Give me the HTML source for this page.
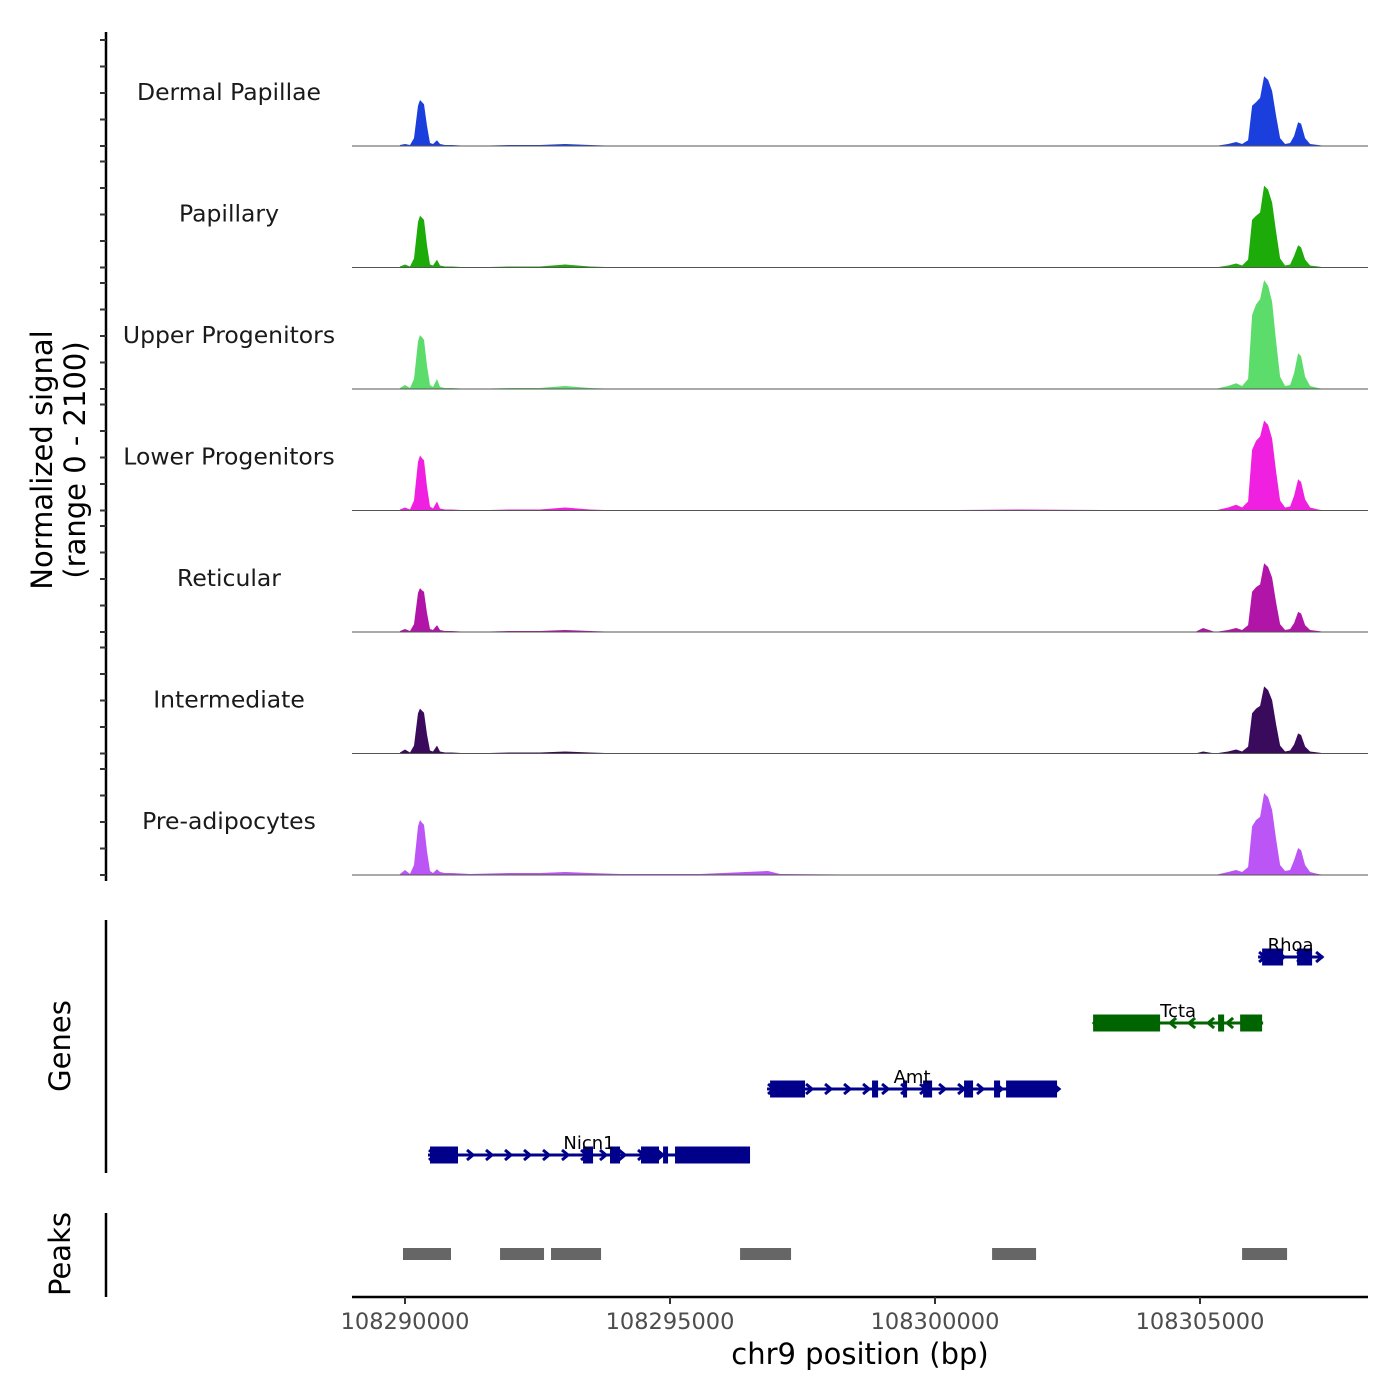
<!DOCTYPE html>
<html><head><meta charset="utf-8">
<style>
html,body{margin:0;padding:0;background:#fff;}
svg{display:block;font-family:"DejaVu Sans","Liberation Sans",sans-serif;}
</style></head>
<body>
<svg id="chart" width="1400" height="1400" viewBox="0 0 1400 1400" xmlns="http://www.w3.org/2000/svg">
<rect width="1400" height="1400" fill="#fff"/>
<g id="tracks"></g>
<g id="genes"></g>
<g id="peaks"></g>
<g id="axes"></g>
</svg>
<script>
const origin = 108289000;
const xTicks = [108290000, 108295000, 108300000, 108305000];
const trackNames = ["Dermal Papillae","Papillary","Upper Progenitors","Lower Progenitors","Reticular","Intermediate","Pre-adipocytes"];
const trackColors = ["#1a3fdc","#1cab08","#5cdc6a","#f020e0","#b015a8","#3a0a5c","#bb55f5"];
const positions = [906,1000,1094,1170,1245,1283,1321,1359,1415,1472,1528,1604,1660,1755,1887,2227,2981,3548,4020,4491,5057,6567,7850,8076,10341,12605,15908,16059,16285,16531,16681,16795,16908,16983,17059,17134,17210,17285,17361,17436,17512,17606,17700,17776,17851,17908,17983,18078,18229,18361];
const sigDP   = [19,38,19,150,760,870,830,790,380,57,38,110,38,19,19,0,19,19,38,19,0,0,0,0,0,0,0,0,0,38,75,38,110,760,830,910,1320,1250,1040,570,150,38,57,190,450,420,150,38,19,0];
const sigPap  = [19,57,19,170,860,980,940,900,420,57,38,150,38,19,19,0,19,19,57,19,0,0,0,0,0,0,0,0,0,38,75,38,150,900,980,1040,1550,1470,1230,680,170,38,57,220,420,380,150,38,19,0];
const sigUp   = [19,76,19,190,900,1020,980,930,440,76,38,190,38,19,19,0,19,19,57,19,0,0,0,0,0,0,0,0,0,57,110,57,190,1400,1600,1700,2060,1950,1650,900,230,57,76,300,680,620,230,57,19,0];
const sigLow  = [19,57,19,190,920,1040,990,950,450,76,38,170,38,19,19,0,19,19,57,19,0,0,0,0,0,19,0,0,0,57,110,57,170,1150,1320,1400,1700,1620,1360,740,190,57,76,280,590,540,210,57,19,0];
const sigRet  = [19,57,19,150,740,830,790,760,360,57,38,130,38,19,19,0,19,19,38,19,0,0,0,0,0,0,0,76,0,38,75,38,130,760,850,900,1300,1230,1030,560,150,38,57,170,380,350,130,38,19,0];
const sigInt  = [19,76,19,150,760,850,810,770,360,57,38,150,38,19,19,0,19,19,38,19,0,0,0,0,0,0,0,38,0,38,75,38,130,760,850,900,1270,1200,1010,550,150,38,57,170,380,350,130,38,19,0];
const sigPre  = [19,95,19,190,920,1040,990,950,450,76,38,110,57,38,38,19,38,38,57,38,19,19,76,19,0,0,0,0,0,57,95,57,150,920,1040,1100,1550,1470,1230,680,190,76,95,280,510,470,190,57,19,0];
const signals = [sigDP,sigPap,sigUp,sigLow,sigRet,sigInt,sigPre];
const geneNames = ["Nicn1","Amt","Tcta","Rhoa"];
const geneStarts = [1434,7831,13983,17096];
const geneEnds = [7510,13303,17191,18323];
const geneStrands = [1,1,-1,1];
const geneRows = [3,2,1,0];
const geneExons = [
  [[1472,2000],[4359,4548],[4868,5057],[5453,5793],[5869,5963],[6095,7510]],
  [[7888,8548],[9812,9926],[10397,10473],[10775,10945],[11548,11718],[12114,12228],[12341,13303]],
  [[13983,15247],[16341,16455],[16757,17172]],
  [[17172,17568],[17832,18115]]
];
const peakStarts = [962,2793,3755,7322,12077,16794];
const peakEnds = [1868,3623,4699,8284,12907,17643];

const NS="http://www.w3.org/2000/svg";
function el(tag,attrs,parent,text){const e=document.createElementNS(NS,tag);for(const k in attrs)e.setAttribute(k,attrs[k]);if(text!==undefined)e.textContent=text;parent.appendChild(e);return e;}
const xS = bp => 352 + (bp - origin) * 0.053;
const baselines=[146,267.5,389,510.5,632,753.5,875];
const yUnit = 111/2100;

const tracks=document.getElementById('tracks');
signals.forEach((sig,t)=>{
  const b=baselines[t];
  let d=`M${xS(origin+positions[0])},${b}`;
  positions.forEach((p,i)=>{d+=` L${xS(origin+p).toFixed(1)},${(b-sig[i]*yUnit).toFixed(1)}`;});
  d+=` L${xS(origin+positions[positions.length-1])},${b} Z`;
  const a=el('path',{d:d,fill:trackColors[t]},tracks);
  
  
  const ln=el('line',{x1:352,x2:1368,y1:b,y2:b,stroke:'#555','stroke-width':1},tracks);
  
  
  const lb=el('text',{x:229,y:b-46,'font-size':23.5,'text-anchor':'middle',fill:'#1a1a1a'},tracks,trackNames[t]);
  
  
});

const genes=document.getElementById('genes');
const rowY=[957,1023,1089,1155];
geneNames.forEach((g,i)=>{
  const y=rowY[geneRows[i]];
  const col=geneStrands[i]>0?'#00008b':'#006400';
  const grp=el('g',{},genes);
  
  
  const x0=xS(origin+geneStarts[i]), x1=xS(origin+geneEnds[i]);
  el('line',{x1:x0,x2:x1,y1:y,y2:y,stroke:col,'stroke-width':3},grp);
  for(let x=x0+4;x<x1;x+=19){
    const s=geneStrands[i];
    el('polyline',{points:`${x-3*s},${y-5} ${x+3*s},${y} ${x-3*s},${y+5}`,fill:'none',stroke:col,'stroke-width':3},grp);
  }
  geneExons[i].forEach(e=>{
    el('rect',{x:xS(origin+e[0]),y:y-8.5,width:xS(origin+e[1])-xS(origin+e[0]),height:17,fill:col},grp);
  });
  const t=el('text',{x:(x0+x1)/2,y:y-6,'font-size':18,'text-anchor':'middle',fill:'#000'},grp,g);
  
  
});

const peaks=document.getElementById('peaks');
peakStarts.forEach((s,i)=>{
  const r=el('rect',{x:xS(origin+s),y:1248,width:xS(origin+peakEnds[i])-xS(origin+s),height:12,fill:'#666'},peaks);
  
  
});

const axes=document.getElementById('axes');
el('line',{x1:106,x2:106,y1:32,y2:881,stroke:'#000','stroke-width':2.5},axes);
baselines.forEach(b=>{for(let k=0;k<5;k++){const y=b-k*26.5;el('line',{x1:100,x2:106,y1:y,y2:y,stroke:'#333','stroke-width':2},axes);}});
el('line',{x1:106,x2:106,y1:920,y2:1173,stroke:'#000','stroke-width':2.5},axes);
el('line',{x1:106,x2:106,y1:1213,y2:1297,stroke:'#000','stroke-width':2.5},axes);
let yt=el('text',{x:0,y:0,'font-size':29,'text-anchor':'middle',transform:'translate(52,460) rotate(-90)',fill:'#000'},axes,'Normalized signal');


yt=el('text',{x:0,y:0,'font-size':29,'text-anchor':'middle',transform:'translate(85,460) rotate(-90)',fill:'#000'},axes,'(range 0 - 2100)');


yt=el('text',{x:0,y:0,'font-size':29,'text-anchor':'middle',transform:'translate(70,1046) rotate(-90)',fill:'#000'},axes,'Genes');


yt=el('text',{x:0,y:0,'font-size':29,'text-anchor':'middle',transform:'translate(70,1254) rotate(-90)',fill:'#000'},axes,'Peaks');


el('line',{x1:352,x2:1368,y1:1297,y2:1297,stroke:'#000','stroke-width':2.5},axes);
xTicks.forEach(v=>{
  const x=xS(v);
  el('line',{x1:x,x2:x,y1:1297,y2:1304,stroke:'#333','stroke-width':2},axes);
  const t=el('text',{x:x,y:1329,'font-size':22.5,'text-anchor':'middle',fill:'#4d4d4d'},axes,String(v));
  
  
});
const xt=el('text',{x:860,y:1364,'font-size':29,'text-anchor':'middle',fill:'#000'},axes,'chr9 position (bp)');


</script>
</body></html>
